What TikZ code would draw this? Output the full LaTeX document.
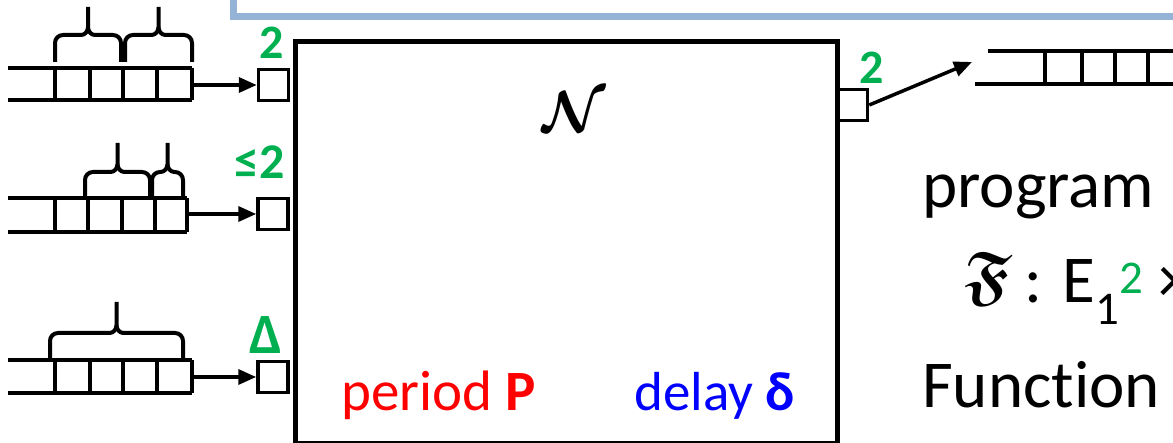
\documentclass[tikz,border=0pt]{standalone}
\usepackage{amsmath}
\usepackage{amssymb}
\usepackage{graphicx}
\usepackage{fontspec}
\setmainfont{Carlito}[Ligatures=NoCommon]
\usetikzlibrary{arrows.meta}
\definecolor{grn}{RGB}{0,176,80}
\definecolor{framecol}{RGB}{149,179,215}
\newcommand{\qbrace}[5]{% x1, x2, ybottom, yhoriz, ytip
  \pgfmathsetmacro{\bxm}{0.5*#1+0.5*#2}
  \draw[brc] (#1,#3) -- ({#1},{#4+8}) to[out=90,in=180] ({#1+8},{#4}) -- ({\bxm-7},{#4})
    to[out=0,in=-90] ({\bxm},{#4-8}) -- ({\bxm},{#5});
  \draw[brc] (#2,#3) -- ({#2},{#4+8}) to[out=90,in=0] ({#2-8},{#4}) -- ({\bxm+7},{#4})
    to[out=180,in=-90] ({\bxm},{#4-8});
}
\newcommand{\qcells}[5]{% ytop, ybottom, xstart, xend, list of verticals
  \draw[qline] (#3,#1) -- (#4,#1);
  \draw[qline] (#3,#2) -- (#4,#2);
  \foreach \vx in {#5} { \draw[qline] (\vx,#1) -- (\vx,#2); }
}
\begin{document}
\begin{tikzpicture}[x=1pt,y=-1pt,
  port/.style={draw, line width=3.5pt, minimum width=30pt, minimum height=31pt, inner sep=0pt},
  qline/.style={line width=4.2pt},
  brc/.style={line width=4pt},
  arr/.style={line width=3.5pt, -{Triangle[length=18pt,width=15pt]}},
  lbl/.style={text=grn, font=\fontsize{48}{56}\selectfont\bfseries, inner sep=0pt},
  big/.style={font=\fontsize{67}{80}\selectfont, inner sep=0pt, anchor=base west},
  mid/.style={font=\fontsize{57}{66}\selectfont, inner sep=0pt, anchor=base west}]
\useasboundingbox (0,0) rectangle (1173,443);
\clip (0,0) rectangle (1173,443);
% blue frame
\draw[framecol, line width=7pt] (233.5,-20) -- (233.5,17) -- (1200,17);
% main box
\node[draw, line width=5pt, minimum width=542.5pt, minimum height=401.5pt, inner sep=0pt, anchor=north west] (N) at (292.5,39.5) {};
\node[inner sep=0pt] (Nlbl) at (574,112) {\scalebox{5.8}{$\boldsymbol{\mathcal{N}}$}};
% ports
\node[port] (in1) at (273.5,85) {};
\node[port] (in2) at (273,214) {};
\node[port] (in3) at (273,377) {};
\node[port] (outp) at (852.5,105) {};
% port labels
\node[lbl] (l1) at (272,43) {2};
\node[lbl, font=\fontsize{50}{58}\selectfont\bfseries] (l2) at (260,162) {≤2};
\node[lbl, font=\fontsize{57}{64}\selectfont\bfseries] (l3) at (266,335) {Δ};
\node[lbl] (l4) at (872,68) {2};
% queue 1
\qcells{68}{100}{8}{192}{55,90,123,157,192}
\qbrace{55}{121}{62}{35}{7}
\qbrace{125}{192}{62}{35}{7}
\coordinate (q1) at (192,85);
\draw[arr] (q1) -- (in1.west);
% queue 2
\qcells{198}{232}{8}{187}{55,88,122,155,187}
\qbrace{85}{150}{198}{172}{143}
\qbrace{152}{183}{198}{172}{143}
\coordinate (q2) at (187,214);
\draw[arr] (q2) -- (in2.west);
% queue 3
\qcells{360}{393}{8}{192}{55,90,123,157,192}
\qbrace{50}{183}{358}{333}{302}
\coordinate (q3) at (192,377);
\draw[arr] (q3) -- (in3.west);
% output queue
\draw[qline] (988,51) -- (1180,51);
\draw[qline] (975,84) -- (1180,84);
\foreach \vx in {1045,1082,1115,1148} { \draw[qline] (\vx,51) -- (\vx,84); }
\coordinate (oq) at (972,62);
\draw[arr] (outp.east) -- (oq);
% period / delay
\node[mid, text=red] (per) at (341,411) {period \textbf{P}};
\node[mid, text=blue, font=\fontsize{55}{64}\selectfont] (del) at (634,411) {delay \textbf{δ}};
% right text
\node[big] (prog) at (922,208) {program};
\node[inner sep=0pt] (frak) at (988,279) {\scalebox{6.6}{$\boldsymbol{\mathfrak{F}}$}};
\node[big] (sig) at (1024,303) {: E\textsubscript{1}\textsuperscript{\color{grn}2} ×};
\node[big] (fun) at (922,408) {Function};
\end{tikzpicture}
\end{document}
